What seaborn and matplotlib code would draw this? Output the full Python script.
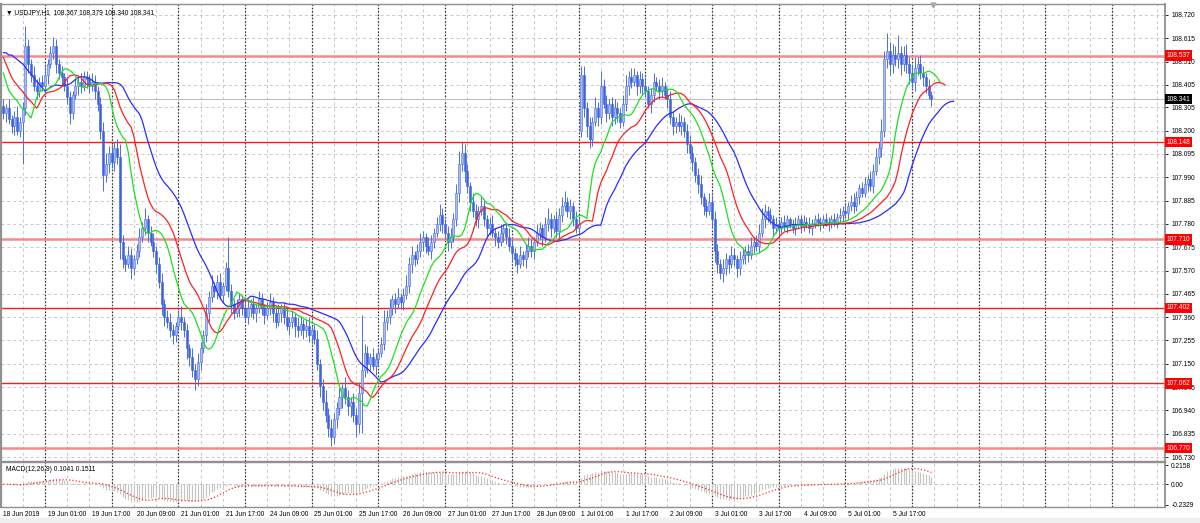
import numpy as np
import pandas as pd
import seaborn as sns
import matplotlib
matplotlib.use("Agg")
import matplotlib.pyplot as plt
import matplotlib.patches as mpatches

# USDJPY H1 closes, one per bar (18 Jun 2019 09:00 -> 5/6 Jul)
close_px = [
    108.28, 108.30, 108.25, 108.22, 108.26, 108.20, 108.24, 108.30, 108.58, 108.50,
    108.45, 108.40, 108.38, 108.42, 108.40, 108.45, 108.50, 108.55, 108.58, 108.50,
    108.46, 108.44, 108.40, 108.35, 108.28, 108.36, 108.40, 108.42, 108.40, 108.44,
    108.43, 108.40, 108.42, 108.38, 108.32, 108.20, 108.00, 108.05, 108.10, 108.06,
    108.12, 108.08, 107.70, 107.62, 107.60, 107.64, 107.58, 107.62, 107.66, 107.72,
    107.76, 107.80, 107.74, 107.70, 107.66, 107.60, 107.52, 107.42, 107.36, 107.34,
    107.30, 107.28, 107.32, 107.36, 107.34, 107.30, 107.22, 107.18, 107.12, 107.08,
    107.16, 107.22, 107.28, 107.38, 107.45, 107.50, 107.48, 107.52, 107.46, 107.50,
    107.58, 107.48, 107.42, 107.38, 107.40, 107.44, 107.40, 107.36, 107.40, 107.42,
    107.38, 107.40, 107.44, 107.40, 107.37, 107.40, 107.43, 107.38, 107.34, 107.38,
    107.40, 107.36, 107.32, 107.34, 107.36, 107.32, 107.30, 107.33, 107.30, 107.32,
    107.28, 107.30, 107.26, 107.15, 107.05, 106.98, 106.92, 106.86, 106.82, 106.90,
    106.95, 107.00, 107.04, 107.00, 106.96, 106.98, 106.92, 106.88, 107.02, 107.12,
    107.20, 107.15, 107.18, 107.14, 107.17, 107.20, 107.24, 107.34, 107.36, 107.40,
    107.44, 107.42, 107.45, 107.43, 107.46, 107.50, 107.60, 107.64, 107.62, 107.66,
    107.70, 107.72, 107.68, 107.66, 107.70, 107.74, 107.78, 107.82, 107.78, 107.74,
    107.70, 107.72, 107.80, 107.92, 108.05, 108.10, 108.02, 107.95, 107.88, 107.84,
    107.80, 107.84, 107.86, 107.80, 107.76, 107.78, 107.74, 107.72, 107.70, 107.74,
    107.76, 107.72, 107.68, 107.65, 107.62, 107.60, 107.64, 107.62, 107.66, 107.68,
    107.66, 107.70, 107.74, 107.76, 107.72, 107.78, 107.80, 107.76, 107.80, 107.75,
    107.82, 107.86, 107.88, 107.84, 107.86, 107.80, 107.76, 107.78, 108.45, 108.30,
    108.22, 108.16, 108.24, 108.30, 108.26, 108.40, 108.32, 108.28, 108.32, 108.26,
    108.30, 108.28, 108.24, 108.32, 108.40, 108.44, 108.42, 108.45, 108.40, 108.43,
    108.40, 108.38, 108.32, 108.36, 108.42, 108.40, 108.38, 108.40, 108.36, 108.34,
    108.26, 108.22, 108.24, 108.22, 108.24, 108.20, 108.14, 108.10, 108.06, 108.00,
    107.96, 107.90, 107.86, 107.84, 107.88, 107.80, 107.66, 107.60, 107.56, 107.58,
    107.62, 107.60, 107.64, 107.62, 107.58, 107.62, 107.64, 107.66, 107.64, 107.68,
    107.70, 107.68, 107.74, 107.80, 107.84, 107.82, 107.80, 107.76, 107.78, 107.76,
    107.79, 107.77, 107.80, 107.78, 107.76, 107.78, 107.80, 107.77, 107.79, 107.78,
    107.76, 107.78, 107.80, 107.79, 107.78, 107.80, 107.79, 107.78, 107.80, 107.79,
    107.81, 107.82, 107.84, 107.83, 107.86, 107.88, 107.86, 107.90, 107.94, 107.92,
    107.96, 107.98, 107.95, 108.02, 108.08, 108.12, 108.20, 108.52, 108.56, 108.50,
    108.54, 108.52, 108.55, 108.50, 108.54, 108.50, 108.46, 108.42, 108.48, 108.50,
    108.46, 108.44, 108.40, 108.36, 108.34,
]
# upper / lower shadow length in pips
wick_up = [
    3, 2, 4, 2, 3, 5, 2, 3, 9, 3,  2, 4, 3, 2, 3, 4, 2, 3, 4, 3,
    2, 3, 2, 4, 3, 2, 3, 2, 4, 3,  3, 2, 4, 3, 2, 3, 4, 5, 3, 4,
    3, 4, 6, 3, 2, 4, 3, 2, 3, 4,  3, 5, 2, 3, 4, 2, 3, 4, 2, 3,
    4, 3, 2, 3, 5, 2, 3, 2, 4, 3,  4, 3, 2, 4, 3, 5, 2, 3, 4, 2,
    3, 14, 3, 2, 4, 3, 2, 3, 4, 2, 3, 2, 4, 3, 2, 3, 4, 2, 3, 4,
    2, 3, 4, 2, 3, 2, 4, 3, 2, 3,  4, 2, 3, 4, 2, 3, 5, 3, 4, 3,
    3, 4, 2, 5, 3, 2, 4, 3, 5, 25, 4, 3, 2, 4, 3, 2, 3, 5, 3, 4,
    2, 3, 4, 2, 3, 5, 3, 4, 2, 3,  4, 3, 2, 4, 3, 2, 3, 5, 3, 2,
    3, 4, 3, 4, 6, 5, 4, 3, 2, 4,  3, 2, 4, 3, 2, 3, 4, 2, 3, 4,
    2, 3, 4, 3, 2, 3, 4, 2, 3, 4,  3, 2, 4, 3, 2, 3, 5, 3, 2, 4,
    3, 4, 5, 2, 3, 2, 4, 3, 4, 4,  3, 4, 2, 5, 3, 7, 3, 4, 2, 3,
    4, 3, 2, 4, 5, 3, 4, 3, 2, 4,  3, 4, 2, 3, 4, 2, 3, 4, 2, 3,
    4, 3, 2, 4, 3, 2, 3, 4, 3, 2,  3, 4, 2, 3, 4, 3, 4, 3, 2, 4,
    3, 2, 4, 3, 2, 4, 3, 2, 3, 4,  2, 3, 4, 5, 3, 2, 3, 2, 3, 2,
    2, 3, 2, 1, 2, 3, 2, 2, 3, 2,  3, 2, 2, 3, 2, 2, 3, 2, 2, 3,
    2, 3, 2, 3, 2, 3, 4, 3, 2, 3,  3, 2, 4, 3, 4, 3, 5, 4, 8, 4,
    5, 4, 8, 3, 4, 5, 3, 4, 5, 3,  4, 3, 2, 3, 2,
]
wick_dn = [
    3, 4, 2, 3, 4, 2, 3, 19, 3, 4, 3, 2, 4, 3, 2, 3, 4, 2, 3, 4,
    3, 4, 2, 3, 5, 3, 2, 4, 3, 2,  4, 3, 2, 4, 3, 4, 7, 3, 4, 3,
    4, 3, 8, 4, 3, 2, 5, 3, 2, 3,  2, 3, 4, 2, 3, 4, 3, 5, 4, 3,
    3, 4, 3, 2, 4, 3, 5, 4, 3, 5,  3, 4, 2, 3, 4, 2, 3, 4, 2, 3,
    2, 3, 4, 3, 2, 4, 3, 2, 3, 4,  3, 4, 2, 3, 4, 2, 3, 4, 3, 2,
    4, 3, 2, 4, 3, 5, 3, 2, 4, 3,  3, 4, 2, 3, 5, 4, 3, 4, 4, 3,
    4, 3, 5, 3, 4, 5, 3, 6, 4, 18, 3, 4, 3, 2, 4, 3, 2, 3, 4, 3,
    3, 4, 2, 3, 4, 2, 3, 4, 3, 2,  3, 4, 3, 2, 4, 3, 2, 3, 4, 3,
    4, 3, 2, 3, 4, 3, 5, 3, 4, 3,  3, 4, 2, 3, 4, 3, 2, 4, 3, 2,
    4, 3, 2, 4, 3, 4, 2, 3, 4, 3,  3, 4, 2, 3, 4, 2, 3, 4, 2, 3,
    4, 3, 2, 3, 4, 3, 2, 3, 3, 4,  5, 4, 3, 2, 4, 3, 2, 4, 3, 4,
    3, 4, 3, 2, 3, 4, 3, 2, 4, 3,  4, 3, 2, 4, 3, 2, 4, 3, 2, 4,
    3, 4, 3, 2, 4, 3, 4, 3, 4, 3,  4, 3, 4, 3, 2, 4, 5, 4, 3, 4,
    3, 4, 2, 3, 4, 3, 2, 4, 3, 2,  3, 2, 3, 2, 4, 3, 2, 3, 2, 3,
    2, 2, 3, 2, 2, 3, 2, 3, 2, 2,  2, 3, 2, 2, 3, 2, 2, 3, 2, 2,
    3, 2, 3, 2, 3, 2, 3, 2, 3, 2,  2, 3, 2, 3, 2, 3, 4, 3, 4, 5,
    4, 3, 4, 5, 3, 4, 5, 3, 4, 3,  3, 4, 3, 2, 3,
]
# bars whose open is not the previous close
open_override = {0: 108.31, 208: 108.20}

# Alligator line values at the left edge (before the data smoothing takes over)
jaw_head = [108.55, 108.55, 108.54, 108.54, 108.53, 108.52, 108.51, 108.50]
teeth_head = [108.53, 108.50, 108.47, 108.44, 108.42]
lips_head = [108.46, 108.42, 108.38]

levels_soft = [108.537, 107.710, 106.770]
levels_hard = [108.148, 107.402, 107.062]
last_price = 108.341
price_ticks = [108.720, 108.615, 108.510, 108.405, 108.305, 108.200, 108.095,
               107.990, 107.885, 107.780, 107.675, 107.570, 107.465, 107.360,
               107.255, 107.150, 107.045, 106.940, 106.835, 106.730]
macd_ticks = [0.2158, 0.0, -0.2329]
macd_tick_labels = ["0.2158", "0.00", "-0.2329"]
time_labels = ["18 Jun 2019", "19 Jun 01:00", "19 Jun 17:00", "20 Jun 09:00",
               "21 Jun 01:00", "21 Jun 17:00", "24 Jun 09:00", "25 Jun 01:00",
               "25 Jun 17:00", "26 Jun 09:00", "27 Jun 01:00", "27 Jun 17:00",
               "28 Jun 09:00", "1 Jul 01:00", "1 Jul 17:00", "2 Jul 09:00",
               "3 Jul 01:00", "3 Jul 17:00", "4 Jul 09:00", "5 Jul 01:00",
               "5 Jul 17:00"]

df = pd.DataFrame({"close": close_px})
df["open"] = df["close"].shift(1)
for k, v in open_override.items():
    df.loc[k, "open"] = v
df["high"] = df[["open", "close"]].max(axis=1) + np.array(wick_up) / 100
df["low"] = df[["open", "close"]].min(axis=1) - np.array(wick_dn) / 100
df["bar"] = np.arange(len(df))
median = ((df["high"] + df["low"]) / 2).values


def smma(head, n):
    vals = list(head)
    for m in median:
        vals.append((vals[-1] * (n - 1) + m) / n)
    return np.array(vals)


jaw = smma(jaw_head, 13)
teeth = smma(teeth_head, 8)
lips = smma(lips_head, 5)

ema12 = df["close"].ewm(span=12, adjust=False).mean()
ema26 = df["close"].ewm(span=26, adjust=False).mean()
macd = ema12 - ema26
signal = macd.rolling(9, min_periods=1).mean()

sns.set_style("white")
plt.rcParams["font.family"] = ["Liberation Sans", "DejaVu Sans"]
FS = 4.8

fig = plt.figure(figsize=(12, 5.23), dpi=100)
fig.patches.append(mpatches.Rectangle((0, 0), 1, 5 / 523, transform=fig.transFigure,
                                      color="#f0f0f0", zorder=0))
ax = fig.add_axes([0.001, 0.1186, 0.9698, 0.8738])
ax2 = fig.add_axes([0.001, 0.0306, 0.9698, 0.0851])

xmax = 418
for a in (ax, ax2):
    a.set_xlim(-0.72, xmax)
    for b in range(7, xmax, 8):
        a.axvline(b, color="#c8c8c8", lw=0.7, ls=(0, (3, 3)), zorder=0)
    for b in range(15, xmax, 24):
        a.axvline(b, color="#303030", lw=0.9, ls=(0, (1.2, 1.5)), zorder=1)
    for s in a.spines.values():
        s.set_color("#909090")
        s.set_linewidth(1.0)
    a.spines["left"].set_linewidth(1.6)
    a.spines["right"].set_linewidth(1.3)
    a.yaxis.tick_right()
    a.tick_params(axis="y", labelsize=FS, length=2.5, pad=2, colors="black", width=0.6)

ax.set_ylim(106.7128, 108.7695)
for y in price_ticks:
    ax.axhline(y, color="#c8c8c8", lw=0.7, ls=(0, (3, 3)), zorder=0)
ax.set_yticks(price_ticks)
ax.set_yticklabels([f"{t:.3f}" for t in price_ticks])
ax.set_xticks([])

ax.axhline(last_price, color="#c0c0c0", lw=0.8, zorder=1)
for y in levels_soft:
    ax.axhline(y, color="#f28a8a", lw=1.8, zorder=2)
for y in levels_hard:
    ax.axhline(y, color="#ff1a1a", lw=1.0, zorder=2)

# candles
x = df["bar"].values
o, c, h, l = df["open"].values, df["close"].values, df["high"].values, df["low"].values
up = c >= o
ax.vlines(x, l, h, color="#4a6ee0", lw=0.7, zorder=3)
ax.bar(x[up], np.maximum(c[up] - o[up], 0.002), bottom=o[up], width=0.72,
       color="#a9bbf2", edgecolor="#4a6ee0", linewidth=0.4, zorder=4)
ax.bar(x[~up], np.maximum(o[~up] - c[~up], 0.002), bottom=c[~up], width=0.72,
       color="#3c63df", edgecolor="#3c63df", linewidth=0.4, zorder=4)

# alligator
sns.lineplot(x=np.arange(len(jaw)), y=jaw, ax=ax, color="#2b2bff", lw=0.9, zorder=5)
sns.lineplot(x=np.arange(len(teeth)), y=teeth, ax=ax, color="#ff2020", lw=0.9, zorder=5)
sns.lineplot(x=np.arange(len(lips)), y=lips, ax=ax, color="#1ee01e", lw=0.9, zorder=5)

ytr = ax.get_yaxis_transform()
for y in levels_soft + levels_hard:
    ax.text(1.0015, y, f"{y:.3f}", transform=ytr, ha="left", va="center", fontsize=FS,
            color="white", zorder=10, clip_on=False,
            bbox=dict(boxstyle="square,pad=0.25", fc="#ff0000", ec="none"))
ax.text(1.0015, last_price, f"{last_price:.3f}", transform=ytr, ha="left", va="center",
        fontsize=FS, color="white", zorder=10, clip_on=False,
        bbox=dict(boxstyle="square,pad=0.25", fc="#000000", ec="none"))

ax.text(0.004, 0.988, "\u25bc USDJPY,H1  108.367 108.379 108.340 108.341",
        transform=ax.transAxes, ha="left", va="top", fontsize=FS, color="black")
ax.plot([334.5], [108.764], marker="v", color="#a8a8a8", ms=3.5, clip_on=False, zorder=6)

# MACD panel
ax2.set_ylim(-0.258, 0.247)
ax2.axhline(0, color="#c0c0c0", lw=0.7, ls=(0, (3, 3)), zorder=0)
ax2.vlines(x, 0, macd.values, color="#c4c4c4", lw=0.8, zorder=2)
sns.lineplot(x=x, y=signal.values, ax=ax2, color="#ff2a2a", lw=0.9, ls=":", zorder=3)
ax2.set_yticks(macd_ticks)
ax2.set_yticklabels(macd_tick_labels)
ax2.text(0.004, 0.92, "MACD(12,26,9) 0.1041 0.1511", transform=ax2.transAxes,
         ha="left", va="top", fontsize=FS, color="black")
ax2.set_xticks([16 * i for i in range(len(time_labels))])
ax2.set_xticklabels(time_labels, ha="left")
ax2.tick_params(axis="x", labelsize=FS, length=2, pad=0.8, width=0.6, colors="black")
ax2.set_xlabel("")
ax2.set_ylabel("")
ax.set_xlabel("")
ax.set_ylabel("")

fig.savefig("out.png", dpi=100, facecolor="white")
